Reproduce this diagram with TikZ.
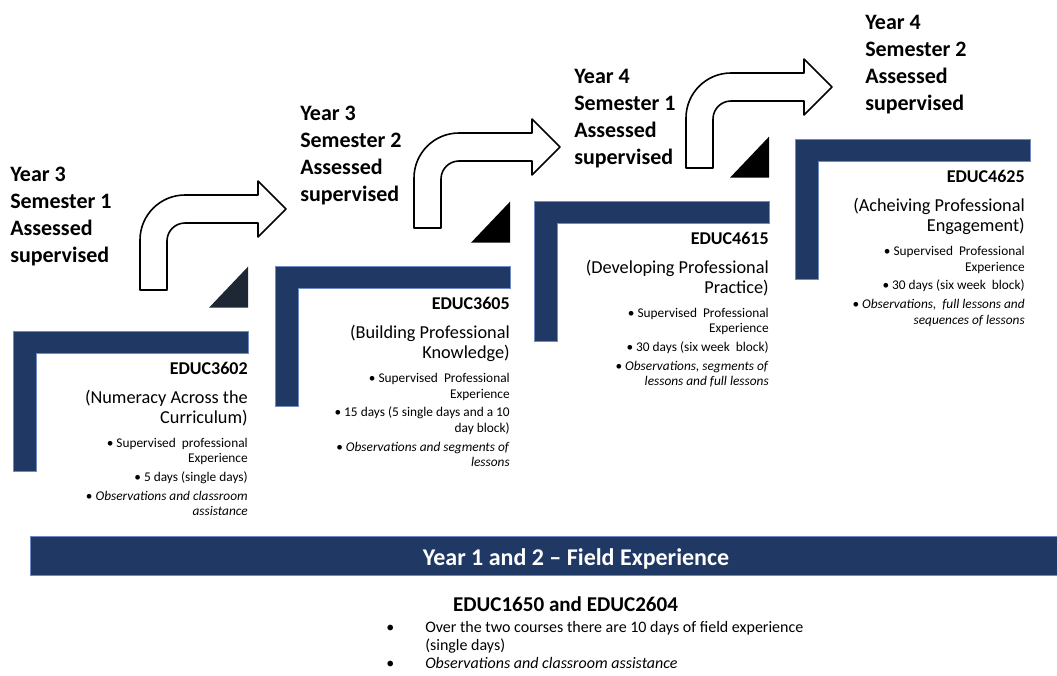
\documentclass[tikz,border=0pt]{standalone}
\usepackage{fontspec}
\setmainfont{Carlito}
\usetikzlibrary{positioning}

\definecolor{barblue}{RGB}{31,56,100}
\definecolor{baredge}{RGB}{110,140,195}
\definecolor{slate}{RGB}{30,40,52}

\tikzset{
  stepbar/.pic={
    \filldraw[fill=barblue, draw=baredge, line width=0.5pt]
      (0,0) -- (235,0) -- (235,22) -- (23.5,22) -- (23.5,140) -- (0,140) -- cycle;
  },
  stepcorner/.pic={
    \path[pic actions] (-39,-24) -- (0,-24) -- (0,-65) -- cycle;
  },
  turnarrow/.pic={
    \filldraw[fill=white, draw=black, line width=1.2pt, line join=round]
      (0,0) -- (0,-50) arc[start angle=180, end angle=90, radius=33.75pt]
      -- (118,-95) -- (118,-109) -- (146,-81) -- (118,-53) -- (118,-67)
      -- (45,-67) arc[start angle=90, end angle=180, radius=13.5pt] -- (27,0) -- cycle;
  },
}

\begin{document}
\begin{tikzpicture}[x=0.75pt, y=-0.75pt,
    yearhead/.style={anchor=north west, inner sep=0pt, align=left,
      font=\fontsize{16.5}{20.25}\selectfont\bfseries},
    coursecode/.style={anchor=north east, inner sep=0pt,
      font=\fontsize{13.5}{15}\selectfont\bfseries},
    coursetitle/.style={inner sep=0pt, align=right,
      font=\fontsize{13.7}{15}\selectfont},
    coursepoints/.style={inner sep=0pt, align=right,
      font=\fontsize{10}{11.5}\selectfont},
    bandtext/.style={anchor=base, inner sep=0pt, text=white,
      font=\fontsize{18}{20}\selectfont\bfseries},
    fieldcode/.style={inner sep=0pt, font=\fontsize{15.8}{18}\selectfont\bfseries},
    fieldpoints/.style={anchor=north west, inner sep=0pt, align=left,
      font=\fontsize{12}{13.5}\selectfont},
]
\useasboundingbox (0,0) rectangle (1057,675);

% steps
\pic at (13,331.7) {stepbar};
\pic at (275,266.7) {stepbar};
\pic at (534,201.7) {stepbar};
\pic at (795,139.3) {stepbar};

\pic[fill=slate] at (248,331.7) {stepcorner};
\pic[fill=black] at (510,266.7) {stepcorner};
\pic[fill=black] at (769,201.7) {stepcorner};

\pic at (140,290) {turnarrow};
\pic at (414,228) {turnarrow};
\pic at (686,168) {turnarrow};

% year headings
\node[yearhead] (head1) at (10,167) {Year 3\\Semester 1\\Assessed\\supervised};
\node[yearhead] (head2) at (300,106) {Year 3\\Semester 2\\Assessed\\supervised};
\node[yearhead] (head3) at (574,69) {Year 4\\Semester 1\\Assessed\\supervised};
\node[yearhead] (head4) at (865,15) {Year 4\\Semester 2\\Assessed\\supervised};

% courses
\node[coursecode] (code1) at (248,362) {EDUC3602};
\node[coursetitle] (title1) [below=11.5pt of code1.south east, anchor=north east]
  {(Numeracy Across the\\Curriculum)};
\node[coursepoints] (points1) [below=8.25pt of title1.south east, anchor=north east]
  {\textbullet\ Supervised\ \ professional\\Experience\\[2.6pt]
   \textbullet\ 5 days (single days)\\[2.6pt]
   \textbullet\ \textit{Observations and classroom}\\\textit{assistance}};

\node[coursecode] (code2) at (510,297) {EDUC3605};
\node[coursetitle] (title2) [below=11.5pt of code2.south east, anchor=north east]
  {(Building Professional\\Knowledge)};
\node[coursepoints] (points2) [below=8.25pt of title2.south east, anchor=north east]
  {\textbullet\ Supervised\ \ Professional\\Experience\\[2.6pt]
   \textbullet\ 15 days (5 single days and a 10\\day block)\\[2.6pt]
   \textbullet\ \textit{Observations and segments of}\\\textit{lessons}};

\node[coursecode] (code3) at (769,232) {EDUC4615};
\node[coursetitle] (title3) [below=11.5pt of code3.south east, anchor=north east]
  {(Developing Professional\\Practice)};
\node[coursepoints] (points3) [below=8.25pt of title3.south east, anchor=north east]
  {\textbullet\ Supervised\ \ Professional\\Experience\\[2.6pt]
   \textbullet\ 30 days (six week\ \ block)\\[2.6pt]
   \textbullet\ \textit{Observations,\ segments\ of}\\\textit{lessons and full lessons}};

\node[coursecode] (code4) at (1025,170) {EDUC4625};
\node[coursetitle] (title4) [below=11.5pt of code4.south east, anchor=north east]
  {(Acheiving Professional\\Engagement)};
\node[coursepoints] (points4) [below=8.25pt of title4.south east, anchor=north east]
  {\textbullet\ Supervised\ \ Professional\\Experience\\[2.6pt]
   \textbullet\ 30 days (six week\ \ block)\\[2.6pt]
   \textbullet\ \textit{Observations,\ \ full lessons and}\\\textit{sequences of lessons}};

% field experience
\filldraw[fill=barblue, draw=baredge, line width=0.5pt] (30,536) rectangle (1057,575);
\node[bandtext] (fieldhead) at (576,565) {Year 1 and 2 – Field Experience};
\node[fieldcode] (fieldcode) at (565.5,604) {EDUC1650 and EDUC2604};
\node[fieldpoints] (fieldlist) at (386,621)
  {\makebox[29.25pt][l]{\textbullet}Over the two courses there are 10 days of field experience\\
   \hspace*{29.25pt}(single days)\\
   \makebox[29.25pt][l]{\textbullet}\textit{Observations and classroom assistance}};

\end{tikzpicture}
\end{document}
